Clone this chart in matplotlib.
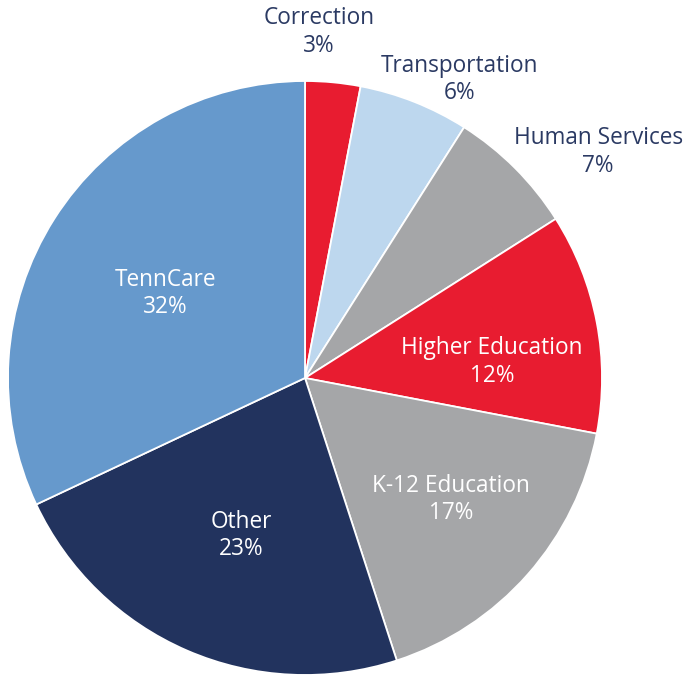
import matplotlib
matplotlib.use("Agg")
import matplotlib.pyplot as plt

categories = ["Correction", "Transportation", "Human Services", "Higher Education",
              "K-12 Education", "Other", "TennCare"]
shares = [3, 6, 7, 12, 17, 23, 32]
colors = ["#E81C30", "#BDD7EE", "#A5A6A8", "#E81C30", "#A5A6A8", "#22335E", "#6699CC"]

# label layout (data coords, pie radius = 1) and text colours
label_pos = [(0.047, 1.164), (0.519, 1.005), (0.987, 0.760), (0.630, 0.053),
             (0.492, -0.409), (-0.215, -0.530), (-0.471, 0.285)]
label_col = ["#2B3A63", "#2B3A63", "#2B3A63", "white", "white", "white", "white"]

plt.rcParams['font.family'] = ['Open Sans', 'DejaVu Sans']
fig = plt.figure(figsize=(6.86, 6.75), dpi=100)
ax = fig.add_axes([0, 0, 1, 1])
ax.pie(shares, colors=colors, startangle=90, counterclock=False, radius=1,
       wedgeprops=dict(edgecolor="white", linewidth=1.3))
for cat, v, (x, y), c in zip(categories, shares, label_pos, label_col):
    ax.text(x, y, f"{cat}\n{v}%", ha="center", va="center", color=c,
            fontsize=16.3, linespacing=1.2)
ax.set_xlim(-305 / 297, (686 - 305) / 297)
ax.set_ylim(-(675 - 378) / 297, 378 / 297)
ax.set_aspect("auto")
ax.axis("off")
fig.savefig("out.png", dpi=100)
